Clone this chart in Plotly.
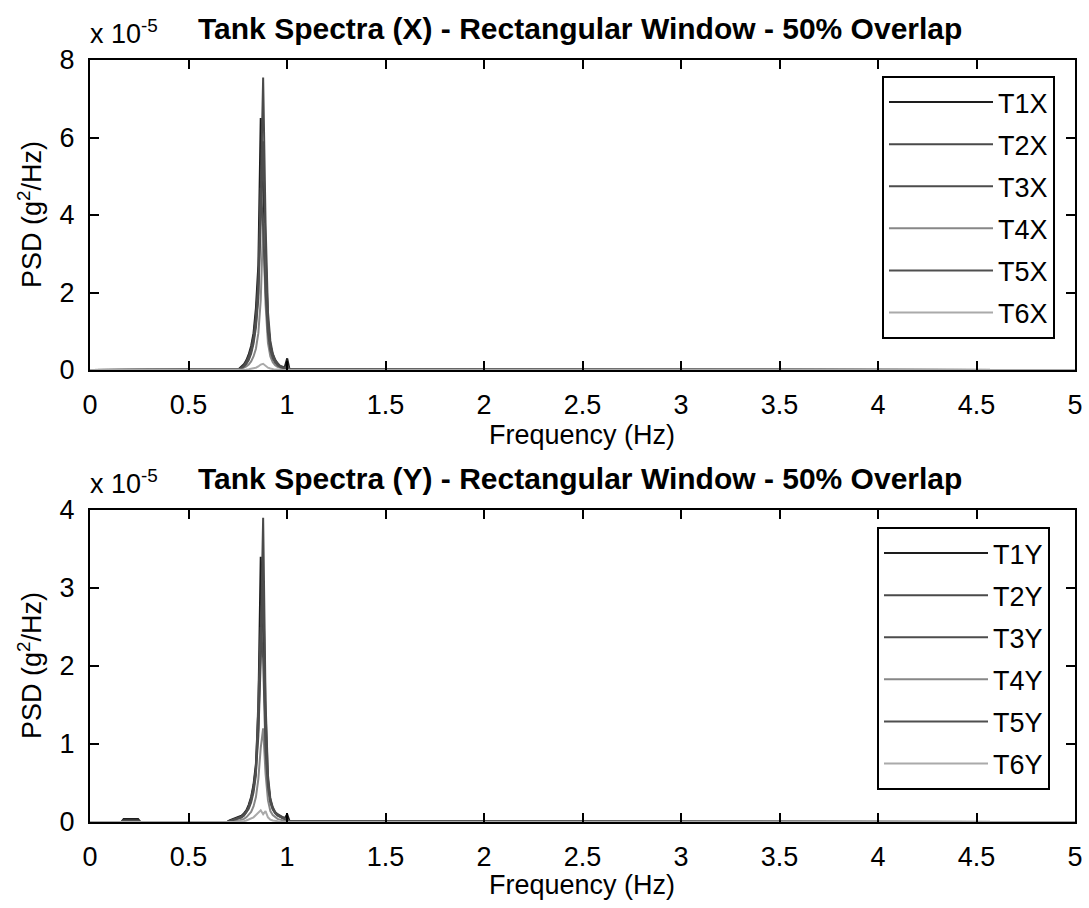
import plotly.graph_objects as go

# ---------------- data (PSD values in units of 1e-5 g^2/Hz) ----------------
freq_x = [0.0, 0.7446, 0.7568, 0.7690, 0.7813, 0.7935, 0.8057, 0.8179, 0.8301, 0.8423,
          0.8545, 0.8667, 0.8789, 0.8911, 0.9033, 0.9155, 0.9277, 0.9399, 0.9521,
          0.9644, 0.9766, 0.9888, 1.0010, 1.0132, 5.0]

T1X = [0, 0.01, 0.03, 0.08, 0.15, 0.25, 0.40, 0.62, 0.95, 1.60, 2.70, 6.50, 4.70, 2.60, 1.20,
       0.65, 0.40, 0.25, 0.16, 0.10, 0.07, 0.08, 0.30, 0.01, 0]
T2X = [0, 0.01, 0.02, 0.06, 0.12, 0.22, 0.35, 0.55, 0.85, 1.40, 2.30, 4.60, 7.55, 3.80, 1.50,
       0.75, 0.42, 0.27, 0.17, 0.11, 0.08, 0.06, 0.04, 0.02, 0]
T3X = [0, 0.01, 0.02, 0.05, 0.10, 0.18, 0.30, 0.48, 0.75, 1.20, 2.00, 3.80, 5.90, 3.10, 1.30,
       0.62, 0.36, 0.22, 0.14, 0.09, 0.06, 0.05, 0.12, 0.02, 0]
T4X = [0, 0.00, 0.01, 0.03, 0.05, 0.09, 0.14, 0.22, 0.35, 0.55, 0.95, 1.80, 3.80, 1.70, 0.70,
       0.35, 0.20, 0.12, 0.08, 0.05, 0.04, 0.03, 0.02, 0.01, 0]
T5X = [0, 0.01, 0.02, 0.05, 0.09, 0.16, 0.26, 0.42, 0.68, 1.10, 1.85, 4.70, 3.70, 2.00, 0.95,
       0.50, 0.30, 0.19, 0.12, 0.08, 0.05, 0.04, 0.03, 0.01, 0]
T6X = [0, 0.00, 0.00, 0.00, 0.01, 0.01, 0.02, 0.03, 0.04, 0.06, 0.09, 0.14, 0.16, 0.10, 0.06,
       0.04, 0.02, 0.01, 0.01, 0.00, 0.00, 0.00, 0.00, 0.00, 0]

freq_y = [0.0, 0.1587, 0.1709, 0.2441, 0.2563, 0.6958,
          0.7080, 0.7202, 0.7324, 0.7446, 0.7568, 0.7690, 0.7813, 0.7935, 0.8057, 0.8179,
          0.8301, 0.8423, 0.8545, 0.8667, 0.8789, 0.8911, 0.9033, 0.9155, 0.9277, 0.9399,
          0.9521, 0.9644, 0.9766, 0.9888, 1.0010, 1.0132, 5.0]

T1Y = [0, 0, 0.04, 0.04, 0, 0,
       0.02, 0.03, 0.04, 0.05, 0.06, 0.08, 0.11, 0.15, 0.22, 0.32, 0.48, 0.75, 1.45, 3.40,
       2.50, 1.10, 0.50, 0.28, 0.18, 0.12, 0.09, 0.07, 0.06, 0.05, 0.10, 0.01, 0]
T2Y = [0, 0, 0.01, 0.01, 0, 0,
       0.01, 0.02, 0.03, 0.04, 0.05, 0.07, 0.10, 0.14, 0.20, 0.30, 0.45, 0.70, 1.20, 2.30,
       3.90, 1.55, 0.60, 0.30, 0.19, 0.13, 0.10, 0.08, 0.06, 0.04, 0.03, 0.01, 0]
T3Y = [0, 0, 0.01, 0.01, 0, 0,
       0.01, 0.02, 0.03, 0.04, 0.05, 0.06, 0.09, 0.13, 0.19, 0.28, 0.42, 0.65, 1.10, 2.00,
       3.06, 1.43, 0.55, 0.27, 0.17, 0.12, 0.09, 0.07, 0.05, 0.04, 0.03, 0.01, 0]
T4Y = [0, 0, 0.00, 0.00, 0, 0,
       0.00, 0.01, 0.01, 0.02, 0.02, 0.03, 0.04, 0.06, 0.09, 0.13, 0.20, 0.32, 0.55, 0.95,
       1.20, 0.62, 0.28, 0.14, 0.09, 0.06, 0.04, 0.03, 0.02, 0.02, 0.01, 0.00, 0]
T5Y = [0, 0, 0.02, 0.02, 0, 0,
       0.01, 0.02, 0.03, 0.03, 0.04, 0.06, 0.08, 0.12, 0.17, 0.25, 0.38, 0.60, 1.56, 2.50,
       2.10, 0.90, 0.45, 0.25, 0.16, 0.11, 0.08, 0.06, 0.05, 0.04, 0.03, 0.01, 0]
T6Y = [0, 0, 0.00, 0.00, 0, 0,
       0.00, 0.00, 0.00, 0.00, 0.01, 0.01, 0.01, 0.02, 0.03, 0.04, 0.06, 0.09, 0.12, 0.15,
       0.10, 0.14, 0.06, 0.03, 0.02, 0.01, 0.01, 0.00, 0.00, 0.00, 0.00, 0.00, 0]

names_x = ["T1X", "T2X", "T3X", "T4X", "T5X", "T6X"]
names_y = ["T1Y", "T2Y", "T3Y", "T4Y", "T5Y", "T6Y"]
colors = ["#1d1d1d", "#4a4a4a", "#4c4c4c", "#878787", "#4f4f4f", "#aaaaaa"]

x_ticks = [0, 0.5, 1, 1.5, 2, 2.5, 3, 3.5, 4, 4.5, 5]
x_ticktext = ["0", "0.5", "1", "1.5", "2", "2.5", "3", "3.5", "4", "4.5", "5"]
y1_ticks = [0, 2, 4, 6, 8]
y2_ticks = [0, 1, 2, 3, 4]
SCALE = 1e-5

W, H = 1089, 908
FONT = "Liberation Sans, Arial, sans-serif"

fig = go.Figure()

for name, vals, col in zip(names_x, [T1X, T2X, T3X, T4X, T5X, T6X], colors):
    fig.add_trace(go.Scatter(x=freq_x, y=[v * SCALE for v in vals], mode="lines", name=name,
                             line=dict(color=col, width=2), xaxis="x", yaxis="y",
                             legend="legend", legendgroup=name))
for name, vals, col in zip(names_y, [T1Y, T2Y, T3Y, T4Y, T5Y, T6Y], colors):
    fig.add_trace(go.Scatter(x=freq_y, y=[v * SCALE for v in vals], mode="lines", name=name,
                             line=dict(color=col, width=2), xaxis="x2", yaxis="y2",
                             legend="legend2", legendgroup=name))

def px_x(p):
    return p / W

def px_y(p):
    return 1 - p / H

axis_common = dict(showgrid=False, zeroline=False, showline=True, linecolor="black",
                   linewidth=2, mirror="ticks", ticks="inside", ticklen=9, tickwidth=2,
                   tickcolor="black", automargin=False,
                   tickfont=dict(family=FONT, size=27, color="black"))

x_dom = [px_x(90), px_x(1075)]
legend_common = dict(xanchor="left", yanchor="top", bgcolor="white", bordercolor="black",
                     borderwidth=2, font=dict(family=FONT, size=27, color="black"),
                     itemwidth=104, entrywidth=172, tracegroupgap=4, traceorder="grouped")
fig.update_layout(
    width=W, height=H, margin=dict(l=0, r=0, t=0, b=0, pad=0), autosize=False,
    paper_bgcolor="white", plot_bgcolor="white",
    font=dict(family=FONT, size=27, color="black"),
    xaxis=dict(domain=x_dom, range=[0, 5], anchor="y", tickvals=x_ticks, ticktext=x_ticktext,
               ticklabelstandoff=10, **axis_common),
    yaxis=dict(domain=[px_y(370), px_y(60)], range=[0, 8 * SCALE], anchor="x",
               tickvals=[t * SCALE for t in y1_ticks], ticktext=[str(t) for t in y1_ticks],
               ticklabelstandoff=8, **axis_common),
    xaxis2=dict(domain=x_dom, range=[0, 5], anchor="y2", tickvals=x_ticks, ticktext=x_ticktext,
                ticklabelstandoff=10, **axis_common),
    yaxis2=dict(domain=[px_y(822), px_y(510)], range=[0, 4 * SCALE], anchor="x2",
                tickvals=[t * SCALE for t in y2_ticks], ticktext=[str(t) for t in y2_ticks],
                ticklabelstandoff=8, **axis_common),
    legend=dict(x=px_x(882), y=px_y(76), **legend_common),
    legend2=dict(x=px_x(877), y=px_y(527), **legend_common),
    showlegend=True,
)

annotations = [
    dict(text="<b>Tank Spectra (X) - Rectangular Window - 50% Overlap</b>", x=px_x(580), y=px_y(28),
         font=dict(size=30)),
    dict(text="<b>Tank Spectra (Y) - Rectangular Window - 50% Overlap</b>", x=px_x(580), y=px_y(478),
         font=dict(size=30)),
    dict(text="x 10<sup>-5</sup>", x=px_x(88), y=px_y(32), xanchor="left", font=dict(size=27)),
    dict(text="x 10<sup>-5</sup>", x=px_x(88), y=px_y(482), xanchor="left", font=dict(size=27)),
    dict(text="Frequency (Hz)", x=px_x(582), y=px_y(435), font=dict(size=27)),
    dict(text="Frequency (Hz)", x=px_x(582), y=px_y(885), font=dict(size=27)),
    dict(text="PSD (g<sup>2</sup>/Hz)", x=px_x(30), y=px_y(215), textangle=-90, font=dict(size=27)),
    dict(text="PSD (g<sup>2</sup>/Hz)", x=px_x(30), y=px_y(666), textangle=-90, font=dict(size=27)),
]
for a in annotations:
    a.update(xref="paper", yref="paper", showarrow=False)
    a.setdefault("xanchor", "center")
    a["yanchor"] = "middle"
    a["font"].update(family=FONT, color="black")
fig.update_layout(annotations=annotations)

fig.write_html("out.html")
